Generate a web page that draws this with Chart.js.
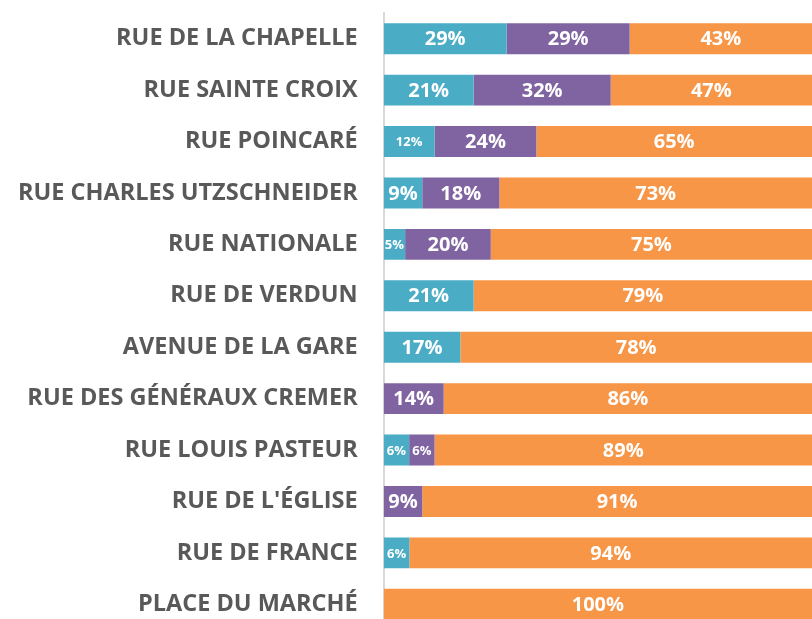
<!DOCTYPE html>
<html>
<head>
<meta charset="utf-8">
<script src="https://cdn.jsdelivr.net/npm/chart.js@4"></script>
<style>
  html, body { margin: 0; padding: 0; background: #fff; overflow: hidden; }
  #wrap { position: relative; width: 812px; height: 630px; }
</style>
</head>
<body>
<div id="wrap"><canvas id="chart"></canvas></div>
<script>
const streets = [
  'RUE DE LA CHAPELLE', 'RUE SAINTE CROIX', 'RUE POINCARÉ', 'RUE CHARLES UTZSCHNEIDER',
  'RUE NATIONALE', 'RUE DE VERDUN', 'AVENUE DE LA GARE', 'RUE DES GÉNÉRAUX CREMER',
  'RUE LOUIS PASTEUR', "RUE DE L'ÉGLISE", 'RUE DE FRANCE', 'PLACE DU MARCHÉ'
];
// percentages as printed on the bars
const tealPct   = [29, 21, 12, 9, 5, 21, 17, 0, 6, 0, 6, 0];
const purplePct = [29, 32, 24, 18, 20, 0, 0, 14, 6, 9, 0, 0];
const orangePct = [43, 47, 65, 73, 75, 79, 78, 86, 89, 91, 94, 100];

const colors = ['#4BACC6', '#8064A2', '#F79646'];
const raw = [tealPct, purplePct, orangePct];

// 100% stacked: each row is normalised to its own total
const totals = streets.map((_, i) => tealPct[i] + purplePct[i] + orangePct[i]);
const norm = arr => arr.map((v, i) => v / totals[i] * 100);

const labelPlugin = {
  id: 'barLabels',
  afterDatasetsDraw(chart) {
    const ctx = chart.ctx;
    ctx.save();
    ctx.fillStyle = '#fff';
    ctx.textAlign = 'center';
    ctx.textBaseline = 'middle';
    chart.data.datasets.forEach((ds, di) => {
      const meta = chart.getDatasetMeta(di);
      meta.data.forEach((bar, i) => {
        const v = raw[di][i];
        if (!v) return;
        const txt = v + '%';
        const w = Math.abs(bar.x - bar.base);
        const small = w < 30 || (txt.length > 2 && w < 55);
        ctx.font = small ? 'bold 13px "Open Sans"' : 'bold 20px "Open Sans"';
        ctx.fillText(txt, (bar.x + bar.base) / 2, bar.y + 1);
      });
    });
    ctx.restore();
  }
};

new Chart(document.getElementById('chart'), {
  type: 'bar',
  data: {
    labels: streets,
    datasets: raw.map((arr, k) => ({
      data: norm(arr),
      backgroundColor: colors[k],
      borderWidth: 0,
      barPercentage: 0.6,
      categoryPercentage: 1
    }))
  },
  options: {
    indexAxis: 'y',
    responsive: true,
    maintainAspectRatio: false,
    animation: false,
    layout: { padding: { top: 13, right: 0, left: 0, bottom: 0 } },
    plugins: { legend: { display: false }, tooltip: { enabled: false } },
    scales: {
      x: { stacked: true, min: 0, max: 100, display: false },
      y: {
        stacked: true,
        grid: { display: false },
        border: { display: true, color: '#D9D9D9', width: 2 },
        afterFit(scale) { scale.paddingTop = 0; scale.paddingBottom = 0; },
        ticks: {
          color: '#595959',
          padding: 18,
          font: { family: '"Open Sans"', weight: 'bold', size: 23.5 }
        }
      }
    }
  },
  plugins: [labelPlugin]
});
</script>
</body>
</html>
